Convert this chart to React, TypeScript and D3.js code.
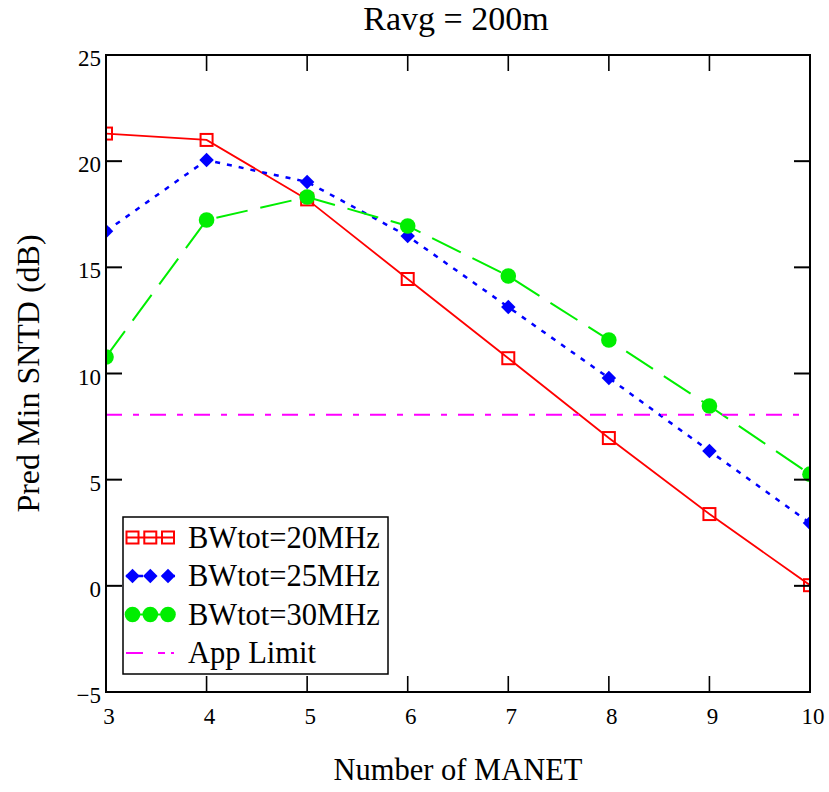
import React from "react";
import * as d3 from "d3";

// Number of MANET nodes on the x axis
const manetCounts = [3, 4, 5, 6, 7, 8, 9, 10];
// Predicted minimum SNTD (dB) per total bandwidth
const bw20 = [21.3, 21.0, 18.2, 14.45, 10.72, 6.96, 3.38, 0.03];
const bw25 = [16.7, 20.05, 19.02, 16.47, 13.13, 9.79, 6.35, 2.96];
const bw30 = [10.78, 17.23, 18.31, 16.95, 14.59, 11.58, 8.47, 5.26];
// Application limit (dB)
const appLimit = 8.06;

const xTicks = [3, 4, 5, 6, 7, 8, 9, 10];
const yTicks = [-5, 0, 5, 10, 15, 20, 25];

const seriesLabels = ["BWtot=20MHz", "BWtot=25MHz", "BWtot=30MHz", "App Limit"];

const W = 829;
const H = 792;
const left = 106;
const right = 810;
const top = 55;
const bottom = 692;
const FONT = "'Liberation Serif', 'Times New Roman', serif";

const RED = "#ff0000";
const BLUE = "#0000ff";
const GREEN = "#00ee00";
const MAGENTA = "#ff00ff";

const x = d3.scaleLinear().domain([3, 10]).range([left, right]);
const y = d3.scaleLinear().domain([-5, 25]).range([bottom, top]);

const lineGen = d3
  .line<number>()
  .x((_, i) => x(manetCounts[i]))
  .y((d) => y(d));

const diamondPath = d3.symbol().type(d3.symbolSquare).size(105)() as string;

function Square({ cx, cy }: { cx: number; cy: number }) {
  return (
    <rect x={cx - 6} y={cy - 6} width={12} height={12} fill="none" stroke={RED} strokeWidth={2} />
  );
}
function Diamond({ cx, cy }: { cx: number; cy: number }) {
  return <path d={diamondPath} transform={`translate(${cx},${cy}) rotate(45)`} fill={BLUE} />;
}
function Dot({ cx, cy }: { cx: number; cy: number }) {
  return <circle cx={cx} cy={cy} r={7.8} fill={GREEN} />;
}

export default function App() {
  const tickLen = 16;
  const fmt = (v: number) => (v < 0 ? "\u2212" + Math.abs(v) : String(v));

  const legendX = 123;
  const legendY = 517;
  const legendW = 265;
  const legendH = 157;
  const rowY = (i: number) => 537.5 + i * 38.5;
  const markerXs = [132.5, 150.3, 168];

  return (
    <svg
      width={W}
      height={H}
      style={{ position: "absolute", left: 0, top: 0, background: "white" }}
      fontFamily={FONT}
    >
      <defs>
        <clipPath id="plotClip">
          <rect x={left} y={top} width={right - left} height={bottom - top} />
        </clipPath>
      </defs>
      <rect x={0} y={0} width={W} height={H} fill="white" />

      {/* title */}
      <text x={456} y={30} fontSize={34} textAnchor="middle" fill="black">
        Ravg = 200m
      </text>

      {/* data */}
      <g clipPath="url(#plotClip)">
        <path d={lineGen(bw20) as string} fill="none" stroke={RED} strokeWidth={1.8} />
        {bw20.map((v, i) => (
          <Square key={"s" + i} cx={x(manetCounts[i])} cy={y(v)} />
        ))}
        <path
          d={lineGen(bw25) as string}
          fill="none"
          stroke={BLUE}
          strokeWidth={2.5}
          strokeDasharray="5,7"
        />
        {bw25.map((v, i) => (
          <Diamond key={"d" + i} cx={x(manetCounts[i])} cy={y(v)} />
        ))}
        <path
          d={lineGen(bw30) as string}
          fill="none"
          stroke={GREEN}
          strokeWidth={2}
          strokeDasharray="32,13"
        />
        {bw30.map((v, i) => (
          <Dot key={"c" + i} cx={x(manetCounts[i])} cy={y(v)} />
        ))}
        <line
          x1={left}
          x2={right}
          y1={y(appLimit)}
          y2={y(appLimit)}
          stroke={MAGENTA}
          strokeWidth={2}
          strokeDasharray="16,11,6,11"
        />
      </g>

      {/* frame */}
      <rect x={left} y={top} width={right - left} height={bottom - top} fill="none" stroke="black" strokeWidth={2} />

      {/* x ticks, bottom and top */}
      {xTicks.map((t) => (
        <g key={"xt" + t}>
          <line x1={x(t)} x2={x(t)} y1={bottom} y2={bottom - tickLen} stroke="black" strokeWidth={1.6} />
          <line x1={x(t)} x2={x(t)} y1={top} y2={top + tickLen} stroke="black" strokeWidth={1.6} />
          <text x={x(t) + 3} y={724} fontSize={23} textAnchor="middle" fill="black">
            {fmt(t)}
          </text>
        </g>
      ))}

      {/* y ticks, left and right */}
      {yTicks.map((t) => (
        <g key={"yt" + t}>
          <line x1={left} x2={left + tickLen} y1={y(t)} y2={y(t)} stroke="black" strokeWidth={2} />
          <line x1={right} x2={right - tickLen} y1={y(t)} y2={y(t)} stroke="black" strokeWidth={2} />
          <text x={101} y={y(t) + 11} fontSize={23} textAnchor="end" fill="black">
            {fmt(t)}
          </text>
        </g>
      ))}

      {/* axis titles */}
      <text x={458} y={780} fontSize={30.5} textAnchor="middle" fill="black">
        Number of MANET
      </text>
      <text
        transform={`translate(39,${(top + bottom) / 2}) rotate(-90)`}
        fontSize={32}
        textAnchor="middle"
        fill="black"
      >
        Pred Min SNTD (dB)
      </text>

      {/* legend */}
      <g>
        <rect x={legendX} y={legendY} width={legendW} height={legendH} fill="white" stroke="black" strokeWidth={1.5} />
        <line x1={126} x2={175} y1={rowY(0)} y2={rowY(0)} stroke={RED} strokeWidth={1.8} />
        {markerXs.map((mx, i) => (
          <Square key={"ls" + i} cx={mx} cy={rowY(0)} />
        ))}
        <line x1={126} x2={175} y1={rowY(1)} y2={rowY(1)} stroke={BLUE} strokeWidth={2.5} strokeDasharray="5,7" />
        {markerXs.map((mx, i) => (
          <Diamond key={"ld" + i} cx={mx} cy={rowY(1)} />
        ))}
        <line x1={126} x2={175} y1={rowY(2)} y2={rowY(2)} stroke={GREEN} strokeWidth={2} />
        {markerXs.map((mx, i) => (
          <Dot key={"lc" + i} cx={mx} cy={rowY(2)} />
        ))}
        <line
          x1={126}
          x2={175}
          y1={rowY(3)}
          y2={rowY(3)}
          stroke={MAGENTA}
          strokeWidth={2}
          strokeDasharray="17,15,7,6,3,20"
        />
        {seriesLabels.map((s, i) => (
          <text key={s} x={188} y={rowY(i) + 10} fontSize={30.5} fill="black">
            {s}
          </text>
        ))}
      </g>
    </svg>
  );
}
